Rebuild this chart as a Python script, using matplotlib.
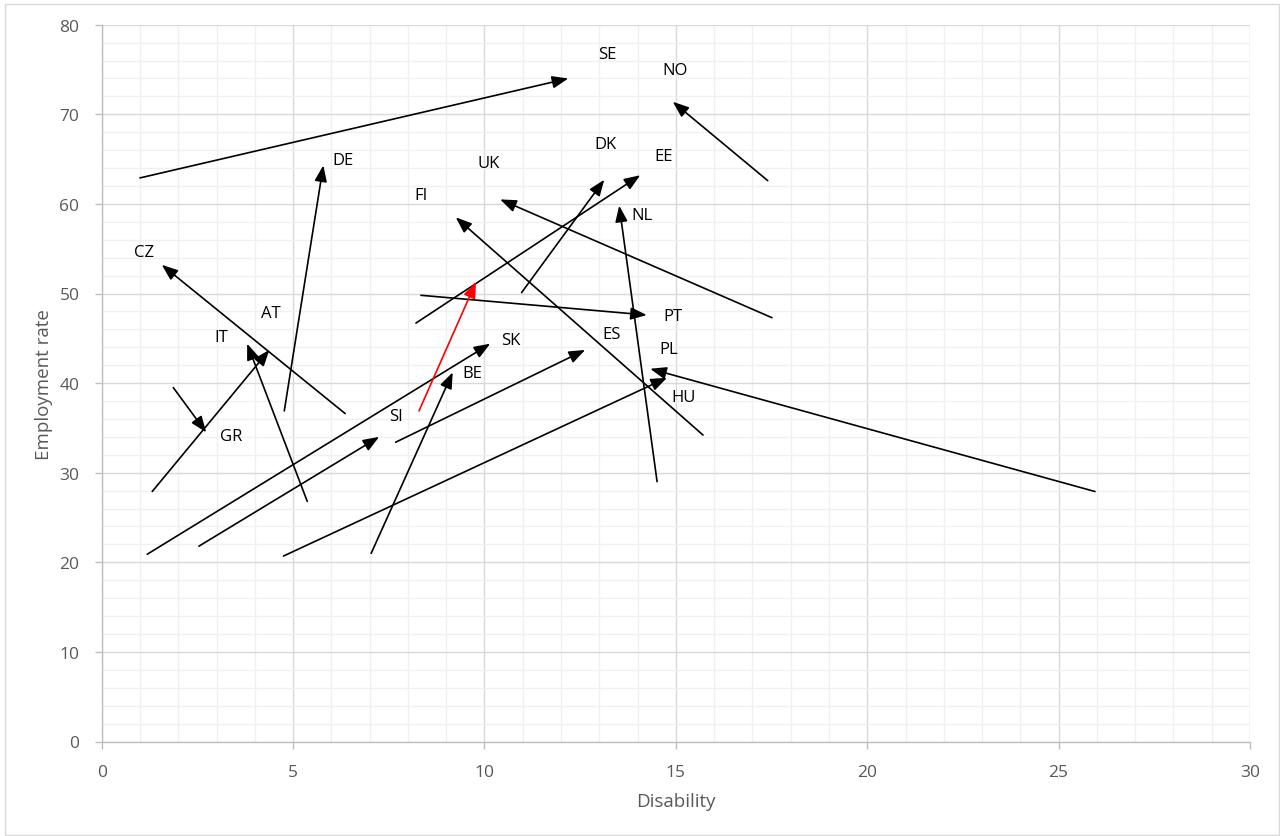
import matplotlib
matplotlib.use("Agg")
import matplotlib.pyplot as plt
from matplotlib.ticker import MultipleLocator
from matplotlib.patches import Rectangle

plt.rcParams['font.family'] = ['Open Sans', 'DejaVu Sans']

# Country arrows: (disability, employment) at start -> end
countries = ['SE', 'NO', 'DE', 'UK', 'FI', 'DK', 'EE', 'NL', 'PT', 'CZ',
             'AT', 'IT', 'GR', 'SK', 'SI', 'BE', 'ES', 'PL', 'HU', '']
x_start = [1.00, 17.40, 4.77, 17.51, 15.71, 10.97, 8.21, 14.51, 8.34, 6.36,
           1.32, 5.37, 1.87, 1.19, 2.54, 7.04, 7.68, 25.95, 4.75, 8.29]
y_start = [62.9, 62.6, 36.9, 47.3, 34.2, 50.1, 46.7, 29.0, 49.8, 36.6,
           27.9, 26.8, 39.5, 20.9, 21.8, 21.0, 33.4, 27.9, 20.7, 36.9]
x_end = [12.19, 14.92, 5.79, 10.41, 9.25, 13.13, 14.07, 13.52, 14.24, 1.57,
         4.38, 3.80, 2.73, 10.15, 7.25, 9.17, 12.63, 14.33, 14.77, 9.78]
y_end = [74.0, 71.4, 64.3, 60.5, 58.5, 62.7, 63.2, 59.8, 47.6, 53.2,
         43.7, 44.4, 34.5, 44.4, 34.0, 41.2, 43.7, 41.6, 40.6, 51.3]
arrow_colors = ['black'] * 19 + ['red']

# label positions
label_x = [13.20, 14.98, 6.30, 10.12, 8.34, 13.15, 14.67, 14.12, 14.93, 1.11,
           4.42, 3.12, 3.38, 10.70, 7.69, 9.68, 13.33, 14.82, 15.21]
label_y = [76.7, 74.9, 64.9, 64.6, 61.0, 66.7, 65.4, 58.8, 47.5, 54.6,
           47.8, 45.2, 34.1, 44.8, 36.3, 41.1, 45.5, 43.8, 38.5]

W, H = 1280, 837
fig = plt.figure(figsize=(W / 100, H / 100), dpi=100)
ax = fig.add_axes([101.7 / W, 1 - 742.5 / H, (1250 - 101.7) / W, (742.5 - 25.7) / H])

ax.set_xlim(0, 30)
ax.set_ylim(0, 80)
ax.xaxis.set_major_locator(MultipleLocator(5))
ax.xaxis.set_minor_locator(MultipleLocator(1))
ax.yaxis.set_major_locator(MultipleLocator(10))
ax.yaxis.set_minor_locator(MultipleLocator(2))
ax.grid(which='minor', color='#f0f0f0', lw=1, zorder=0)
ax.grid(which='major', color='#d9d9d9', lw=1, zorder=0)
ax.set_axisbelow(True)

for s in ['top', 'right']:
    ax.spines[s].set_visible(False)
for s in ['left', 'bottom']:
    ax.spines[s].set_color('#bfbfbf')
    ax.spines[s].set_linewidth(1)

ax.tick_params(which='major', direction='out', length=5, width=1, color='#bfbfbf',
               labelsize=12.5, labelcolor='#595959', pad=11)
ax.tick_params(which='minor', length=0)

for i in range(len(x_start)):
    ax.annotate('', xy=(x_end[i], y_end[i]), xytext=(x_start[i], y_start[i]),
                arrowprops=dict(arrowstyle='-|>,head_length=0.65,head_width=0.25',
                                color=arrow_colors[i], lw=1.2, mutation_scale=15,
                                shrinkA=0, shrinkB=0), zorder=3)

for i in range(len(label_x)):
    ax.text(label_x[i], label_y[i], countries[i], ha='center', va='center',
            fontsize=12, color='black', zorder=4)

ax.set_xlabel('Disability', fontsize=13.5, color='#595959')
ax.set_ylabel('Employment rate', fontsize=13.5, color='#595959')
ax.xaxis.set_label_coords(0.5, -0.0705)
ax.yaxis.set_label_coords(-0.0424, 0.5)

# outer chart border
fig.patches.append(Rectangle((4.5 / W, 1.5 / H), 1274 / W, 831 / H, transform=fig.transFigure,
                             fill=False, edgecolor='#d9d9d9', lw=1))

fig.savefig('out.png', dpi=100)
